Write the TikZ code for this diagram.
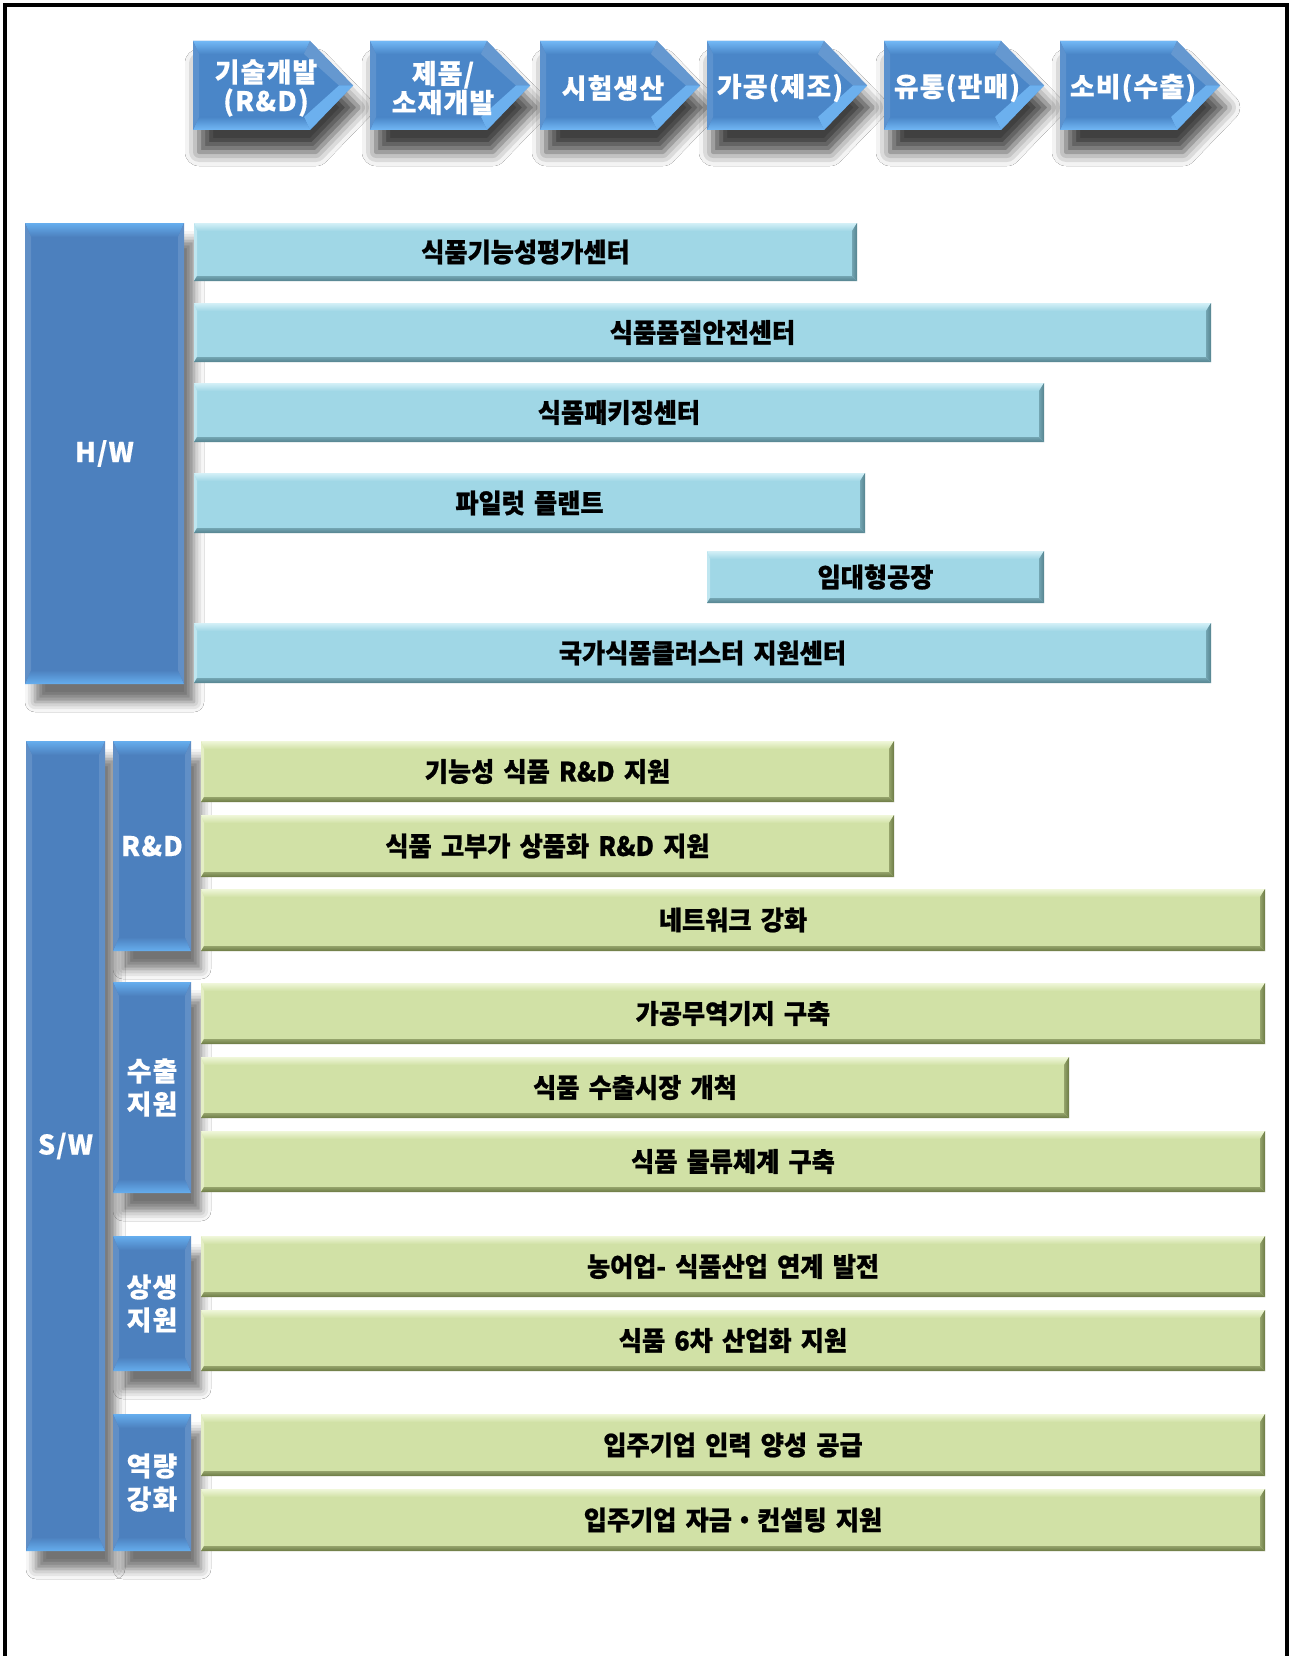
\documentclass[tikz,border=0pt]{standalone}
\usepackage{fontspec}
\newfontfamily\kr{Noto Sans CJK KR}[FakeBold=0.3, LetterSpace=4]
\newfontfamily\krc{Noto Sans CJK KR}[FakeStretch=0.95, FakeBold=0.8, WordSpace=1.6]
\usetikzlibrary{shadows.blur}
\definecolor{chev}{HTML}{4A86C8}
\definecolor{chevlight}{HTML}{72B8F5}
\definecolor{chevdark}{HTML}{3F78B8}
\definecolor{side}{HTML}{4C80BE}
\definecolor{sidelight}{HTML}{66AEEE}
\definecolor{hwfill}{HTML}{A0D7E6}
\definecolor{hwlight}{HTML}{D4F0F7}
\definecolor{hwdark}{HTML}{55838F}
\definecolor{swfill}{HTML}{D1E1A6}
\definecolor{swlight}{HTML}{F0F7DA}
\definecolor{swdark}{HTML}{6C7A44}
\tikzset{
  boxtext/.style={font={\krc\bfseries\fontsize{26.5}{30}\selectfont}, text=black, inner sep=0pt},
  bluetext/.style={font={\kr\bfseries\fontsize{27}{33}\selectfont}, text=white, align=center, inner sep=0pt},
  chevshadow/.style={blur shadow={shadow xshift=6pt, shadow yshift=-22pt, shadow blur radius=14pt, shadow opacity=75}},
  sideshadow/.style={blur shadow={shadow xshift=10pt, shadow yshift=-18pt, shadow blur radius=10pt, shadow opacity=55}},
}
% flat bevelled bar: name, x1, y1, x2, y2, colour prefix, text
\newcommand\flatbox[7]{%
  \fill[#6fill] (#2,#3) rectangle (#4,#5);
  \shade[top color=#6light, bottom color=#6fill] (#2,#3) -- (#4,#3) -- ({#4-5},{#3+8}) -- ({#2+3},{#3+8}) -- cycle;
  \fill[#6light!60!#6fill] (#2,#3) -- ({#2+3},{#3+8}) -- ({#2+3},{#5-5}) -- (#2,#5) -- cycle;
  \shade[top color=#6fill!40!#6dark, bottom color=#6dark] (#2,#5) -- (#4,#5) -- ({#4-5},{#5-5}) -- ({#2+3},{#5-5}) -- cycle;
  \shade[left color=#6fill!40!#6dark, right color=#6dark] (#4,#3) -- (#4,#5) -- ({#4-5},{#5-5}) -- ({#4-5},{#3+8}) -- cycle;
  \node[boxtext] (#1) at ({(#2+#4)/2},{(#3+#5)/2}) {#7};
}
% blue bevelled side box: name, x1, y1, x2, y2, text
\newcommand\bluebox[6]{%
  \fill[side, sideshadow] (#2,#3) rectangle (#4,#5);
  \shade[top color=sidelight, bottom color=side] (#2,#3) -- (#4,#3) -- ({#4-6},{#3+14}) -- ({#2+6},{#3+14}) -- cycle;
  \shade[top color=side, bottom color=sidelight] (#2,#5) -- (#4,#5) -- ({#4-6},{#5-14}) -- ({#2+6},{#5-14}) -- cycle;
  \fill[side!88!white] (#2,#3) -- ({#2+6},{#3+14}) -- ({#2+6},{#5-14}) -- (#2,#5) -- cycle;
  \fill[side!88!white] (#4,#3) -- ({#4-6},{#3+14}) -- ({#4-6},{#5-14}) -- (#4,#5) -- cycle;
  \node[bluetext] (#1) at ({(#2+#4)/2},{(#3+#5)/2}) {#6};
}
% chevron: name, left x, text
\newcommand\chevron[3]{%
  \fill[chev, chevshadow] (#2,41) -- ({#2+117},41) -- ({#2+160},85.5) -- ({#2+117},130) -- (#2,130) -- cycle;
  \shade[top color=chevlight, bottom color=chev] (#2,41) -- ({#2+117},41) -- ({#2+111},54) -- ({#2+6},54) -- cycle;
  \fill[chev!85!white] ({#2+117},41) -- ({#2+160},85.5) -- ({#2+146},85.5) -- ({#2+111},54) -- cycle;
  \fill[chevlight!85!chev] ({#2+160},85.5) -- ({#2+117},130) -- ({#2+111},117) -- ({#2+146},85.5) -- cycle;
  \shade[top color=chev, bottom color=chevlight] ({#2+117},130) -- (#2,130) -- ({#2+6},117) -- ({#2+111},117) -- cycle;
  \fill[chev!90!white] (#2,130) -- (#2,41) -- ({#2+6},54) -- ({#2+6},117) -- cycle;
  \node[bluetext, font={\kr\bfseries\fontsize{27}{29}\selectfont}] (#1) at ({#2+73},88) {#3};
}
\begin{document}
\begin{tikzpicture}[x=1pt,y=-1pt]
\useasboundingbox (0,0) rectangle (1292,1656);
\fill[white] (0,0) rectangle (1292,1656);

% chevrons
\chevron{c1}{193}{기술개발\\(R\&D)}
\chevron{c2}{370}{제품/\\소재개발}
\chevron{c3}{540}{시험생산}
\chevron{c4}{707}{가공(제조)}
\chevron{c5}{884}{유통(판매)}
\chevron{c6}{1060}{소비(수출)}

% H/W
\bluebox{hw}{25}{223}{184}{684}{H/W}
\flatbox{h1}{194}{223}{857}{281}{hw}{식품기능성평가센터}
\flatbox{h2}{194}{303}{1211}{362}{hw}{식품품질안전센터}
\flatbox{h3}{194}{383}{1044}{442}{hw}{식품패키징센터}
\flatbox{h4}{194}{473}{865}{533}{hw}{파일럿 플랜트}
\flatbox{h5}{707}{551}{1044}{603}{hw}{임대형공장}
\flatbox{h6}{194}{623}{1211}{683}{hw}{국가식품클러스터 지원센터}

% S/W
\bluebox{sw}{26}{741}{105}{1551}{S/W}
\bluebox{rd}{113}{741}{191}{951}{R\&D}
\bluebox{ex}{113}{982}{191}{1193}{수출\\지원}
\bluebox{co}{113}{1236}{191}{1371}{상생\\지원}
\bluebox{ca}{113}{1414}{191}{1551}{역량\\강화}

\flatbox{g1}{201}{741}{894}{802}{sw}{기능성 식품 R\&D 지원}
\flatbox{g2}{201}{815}{894}{877}{sw}{식품 고부가 상품화 R\&D 지원}
\flatbox{g3}{201}{889}{1265}{951}{sw}{네트워크 강화}
\flatbox{g4}{201}{983}{1265}{1044}{sw}{가공무역기지 구축}
\flatbox{g5}{201}{1057}{1069}{1118}{sw}{식품 수출시장 개척}
\flatbox{g6}{201}{1131}{1265}{1192}{sw}{식품 물류체계 구축}
\flatbox{g7}{201}{1236}{1265}{1297}{sw}{농어업- 식품산업 연계 발전}
\flatbox{g8}{201}{1310}{1265}{1371}{sw}{식품 6차 산업화 지원}
\flatbox{g9}{201}{1414}{1265}{1476}{sw}{입주기업 인력 양성 공급}
\flatbox{g10}{201}{1489}{1265}{1551}{sw}{입주기업 자금・컨설팅 지원}

% outer frame (bottom edge cut off)
\draw[line width=3.5pt] (5,1700) -- (5,5) -- (1287,5) -- (1287,1700);
\end{tikzpicture}
\end{document}
